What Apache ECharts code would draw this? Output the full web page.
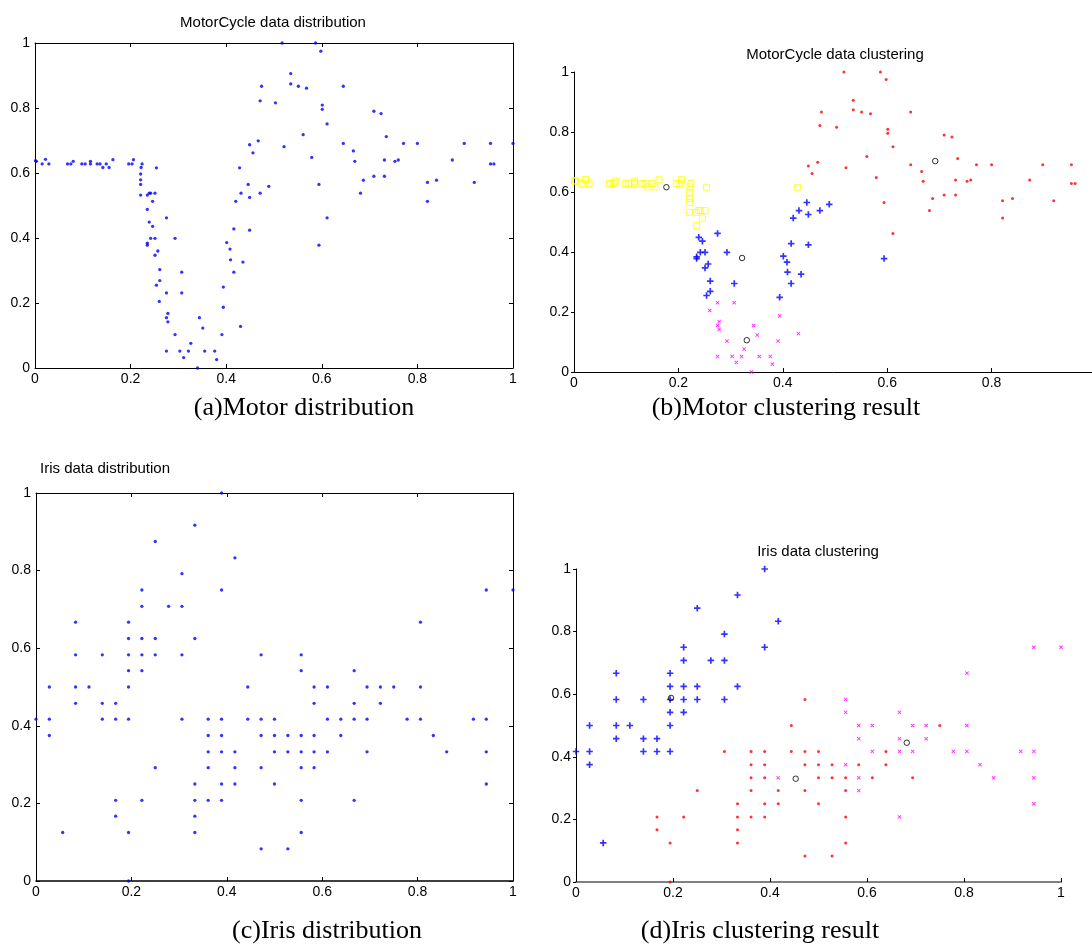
<!DOCTYPE html>
<html>
<head>
<meta charset="utf-8">
<title>MotorCycle / Iris clustering</title>
<script src="https://cdn.jsdelivr.net/npm/echarts@6/dist/echarts.min.js"></script>
<style>
  html, body { margin: 0; padding: 0; background: #fff; }
  #box { width: 1092px; height: 945px; }
</style>
</head>
<body>
<div id="box"></div>
<script>
/* tick labels shared by every axis */
var tickLabels = ['0', '0.2', '0.4', '0.6', '0.8', '1']

/* MotorCycle data (normalized); cluster: 1 yellow, 2 blue, 3 magenta, 4 red */
var motorX = [0.001, 0.003, 0.015, 0.022, 0.029, 0.068, 0.075, 0.080, 0.098, 0.105,
  0.116, 0.116, 0.130, 0.136, 0.142, 0.149, 0.155, 0.163, 0.196, 0.203,
  0.206, 0.222, 0.224, 0.221, 0.221, 0.221, 0.221, 0.254, 0.235, 0.239,
  0.242, 0.251, 0.246, 0.235, 0.239, 0.246, 0.242, 0.251, 0.235, 0.235,
  0.257, 0.251, 0.261, 0.261, 0.254, 0.260, 0.275, 0.293, 0.307, 0.307,
  0.275, 0.275, 0.278, 0.278, 0.293, 0.275, 0.303, 0.311, 0.321, 0.326,
  0.340, 0.344, 0.351, 0.355, 0.376, 0.380, 0.391, 0.394, 0.394, 0.430,
  0.401, 0.408, 0.409, 0.416, 0.435, 0.416, 0.420, 0.428, 0.431, 0.449,
  0.449, 0.446, 0.449, 0.456, 0.467, 0.471, 0.471, 0.474, 0.489, 0.503,
  0.517, 0.521, 0.535, 0.535, 0.551, 0.561, 0.568, 0.579, 0.587, 0.598,
  0.594, 0.594, 0.601, 0.601, 0.611, 0.611, 0.645, 0.645, 0.666, 0.669,
  0.681, 0.687, 0.709, 0.709, 0.724, 0.731, 0.731, 0.735, 0.753, 0.760,
  0.771, 0.800, 0.821, 0.821, 0.840, 0.873, 0.898, 0.919, 0.953, 0.953,
  0.960, 1.000]
var motorY = [0.638, 0.636, 0.628, 0.642, 0.628, 0.628, 0.628, 0.636, 0.628, 0.628,
  0.628, 0.636, 0.628, 0.628, 0.617, 0.628, 0.617, 0.641, 0.628, 0.628,
  0.641, 0.617, 0.628, 0.597, 0.579, 0.565, 0.532, 0.616, 0.532, 0.538,
  0.538, 0.538, 0.513, 0.488, 0.449, 0.436, 0.399, 0.399, 0.384, 0.378,
  0.360, 0.347, 0.303, 0.269, 0.255, 0.205, 0.462, 0.399, 0.295, 0.231,
  0.231, 0.155, 0.168, 0.142, 0.103, 0.052, 0.052, 0.032, 0.052, 0.076,
  0.000, 0.155, 0.123, 0.052, 0.052, 0.026, 0.103, 0.187, 0.249, 0.128,
  0.386, 0.366, 0.333, 0.295, 0.326, 0.428, 0.513, 0.616, 0.538, 0.424,
  0.525, 0.565, 0.687, 0.662, 0.699, 0.538, 0.822, 0.867, 0.559, 0.816,
  1.000, 0.681, 0.906, 0.874, 0.867, 0.718, 0.861, 0.648, 1.000, 0.975,
  0.565, 0.378, 0.809, 0.796, 0.751, 0.462, 0.867, 0.691, 0.668, 0.636,
  0.538, 0.578, 0.790, 0.590, 0.783, 0.640, 0.590, 0.712, 0.636, 0.640,
  0.691, 0.691, 0.571, 0.513, 0.578, 0.640, 0.691, 0.571, 0.691, 0.628,
  0.628, 0.691]
var motorCluster = [1, 1, 1, 1, 1, 1, 1, 1, 1, 1,
  1, 1, 1, 1, 1, 1, 1, 1, 1, 1,
  1, 1, 1, 1, 1, 1, 1, 1, 1, 1,
  1, 1, 1, 1, 2, 2, 2, 2, 2, 2,
  2, 2, 2, 2, 2, 3, 2, 2, 2, 3,
  3, 3, 3, 3, 3, 3, 3, 3, 3, 3,
  3, 3, 3, 3, 3, 3, 3, 3, 2, 3,
  2, 2, 2, 2, 2, 2, 2, 1, 2, 2,
  2, 2, 4, 4, 4, 2, 4, 4, 2, 4,
  4, 4, 4, 4, 4, 4, 4, 4, 4, 4,
  4, 2, 4, 4, 4, 4, 4, 4, 4, 4,
  4, 4, 4, 4, 4, 4, 4, 4, 4, 4,
  4, 4, 4, 4, 4, 4, 4, 4, 4, 4,
  4, 4]
var motorCenterX = [0.177, 0.322, 0.331, 0.692]
var motorCenterY = [0.616, 0.380, 0.106, 0.703]

/* Iris data (sepal length / sepal width, normalized); cluster: 1 blue, 2 red, 3 magenta */
var irisX = [0.000, 0.028, 0.028, 0.028, 0.056, 0.083, 0.083, 0.083, 0.083, 0.111,
  0.139, 0.139, 0.139, 0.167, 0.167, 0.167, 0.167, 0.194, 0.194, 0.194,
  0.194, 0.194, 0.194, 0.194, 0.194, 0.222, 0.222, 0.222, 0.222, 0.222,
  0.222, 0.250, 0.250, 0.250, 0.250, 0.278, 0.306, 0.306, 0.306, 0.306,
  0.333, 0.333, 0.333, 0.333, 0.333, 0.333, 0.361, 0.361, 0.361, 0.361,
  0.361, 0.389, 0.389, 0.389, 0.389, 0.389, 0.389, 0.389, 0.417, 0.417,
  0.417, 0.417, 0.444, 0.444, 0.472, 0.472, 0.472, 0.472, 0.472, 0.500,
  0.500, 0.500, 0.500, 0.528, 0.528, 0.528, 0.556, 0.556, 0.556, 0.556,
  0.556, 0.556, 0.556, 0.583, 0.583, 0.583, 0.583, 0.583, 0.611, 0.611,
  0.611, 0.639, 0.639, 0.667, 0.667, 0.667, 0.667, 0.694, 0.694, 0.694,
  0.722, 0.722, 0.750, 0.778, 0.806, 0.806, 0.806, 0.833, 0.861, 0.917,
  0.944, 0.944, 0.944, 0.944, 1.000]
var irisY = [0.417, 0.500, 0.417, 0.375, 0.125, 0.667, 0.583, 0.500, 0.458, 0.500,
  0.583, 0.458, 0.417, 0.458, 0.417, 0.208, 0.167, 0.667, 0.625, 0.583,
  0.542, 0.500, 0.417, 0.125, 0.000, 0.750, 0.708, 0.625, 0.583, 0.542,
  0.208, 0.875, 0.625, 0.583, 0.292, 0.708, 0.792, 0.708, 0.583, 0.417,
  0.917, 0.625, 0.250, 0.208, 0.167, 0.125, 0.417, 0.375, 0.333, 0.292,
  0.208, 1.000, 0.750, 0.417, 0.375, 0.333, 0.250, 0.208, 0.833, 0.333,
  0.292, 0.250, 0.500, 0.417, 0.583, 0.417, 0.375, 0.292, 0.083, 0.417,
  0.375, 0.333, 0.250, 0.375, 0.333, 0.083, 0.583, 0.542, 0.375, 0.333,
  0.292, 0.208, 0.125, 0.500, 0.458, 0.375, 0.333, 0.292, 0.500, 0.417,
  0.333, 0.417, 0.375, 0.542, 0.458, 0.417, 0.208, 0.500, 0.417, 0.333,
  0.500, 0.458, 0.500, 0.417, 0.667, 0.500, 0.417, 0.375, 0.333, 0.417,
  0.750, 0.417, 0.333, 0.250, 0.750]
var irisCluster = [1, 1, 1, 1, 1, 1, 1, 1, 1, 1,
  1, 1, 1, 1, 1, 2, 2, 1, 1, 1,
  1, 1, 1, 2, 2, 1, 1, 1, 1, 1,
  2, 1, 1, 1, 2, 1, 1, 1, 1, 2,
  1, 1, 2, 2, 2, 2, 2, 2, 2, 2,
  2, 1, 1, 2, 2, 2, 2, 2, 1, 3,
  2, 2, 2, 2, 2, 2, 2, 2, 2, 2,
  2, 2, 2, 2, 2, 2, 3, 3, 3, 2,
  2, 2, 2, 3, 3, 2, 3, 3, 3, 3,
  2, 2, 2, 3, 3, 3, 3, 3, 3, 2,
  3, 3, 2, 3, 3, 3, 3, 3, 3, 3,
  3, 3, 3, 3, 3]
var irisCenterX = [0.196, 0.453, 0.682]
var irisCenterY = [0.588, 0.330, 0.445]

var font = 'Liberation Sans'
var plusPath = 'path://M3.7,0H6.3V3.7H10V6.3H6.3V10H3.7V6.3H0V3.7H3.7Z'
var crossPath = 'path://M0,1.6L1.6,0L5,3.4L8.4,0L10,1.6L6.6,5L10,8.4L8.4,10L5,6.6L1.6,10L0,8.4L3.4,5Z'

/* [[x, y], ...] for one cluster (or all when cluster is null) */
function points (xs, ys, cl, c) {
  var out = []
  xs.forEach(function (x, i) {
    if (c == null || cl[i] === c) out.push([x, ys[i]])
  })
  return out
}

function valueAxis (gridIndex, position, o) {
  o = o || {}
  return {
    type: 'value',
    gridIndex: gridIndex,
    position: position,
    min: 0,
    max: 1,
    interval: 0.2,
    splitLine: { show: false },
    axisLine: { show: true, onZero: false, lineStyle: { color: o.lineColor || '#000', width: o.lineWidth || 1 } },
    axisTick: { show: true, inside: !o.tickOut, length: o.tickLen || 4, lineStyle: { color: '#000', width: 1 } },
    axisLabel: {
      show: !o.noLabel,
      margin: position === 'bottom' ? 4 : 5,
      color: '#000',
      fontFamily: font,
      fontSize: 14,
      showMinLabel: true,
      showMaxLabel: !o.hideMax,
      formatter: function (v) { return tickLabels[Math.round(v / 0.2)] }
    }
  }
}

function dots (xi, yi, data, color, size) {
  return {
    type: 'scatter', xAxisIndex: xi, yAxisIndex: yi, data: data, clip: false,
    symbol: 'circle', symbolSize: size || 3.3,
    itemStyle: { color: color }, silent: true
  }
}

function marks (xi, yi, data, symbol, size, style, rotate) {
  return {
    type: 'scatter', xAxisIndex: xi, yAxisIndex: yi, data: data, clip: false,
    symbol: symbol, symbolSize: size, symbolRotate: rotate || 0,
    itemStyle: style, silent: true
  }
}

function label (text, x, y, serif) {
  return {
    text: text, left: x, top: y, padding: 0,
    textAlign: 'center', textVerticalAlign: 'middle',
    textStyle: serif
      ? { fontFamily: 'Liberation Serif', fontSize: 26, fontWeight: 'normal', color: '#000' }
      : { fontFamily: font, fontSize: 15, fontWeight: 'normal', color: '#000' }
  }
}

var box = document.getElementById('box')
var myCharts = echarts.init(box, null, { renderer: 'canvas' })

var hollow = function (c) { return { color: 'rgba(0,0,0,0)', borderColor: c, borderWidth: 1 } }

var options = {
  backgroundColor: '#fff',
  animation: false,
  title: [
    label('MotorCycle data distribution', 273, 23),
    label('MotorCycle data clustering', 835, 55),
    label('Iris data distribution', 105, 469),
    label('Iris data clustering', 818, 552),
    label('(a)Motor distribution', 304, 408, true),
    label('(b)Motor clustering result', 786, 408, true),
    label('(c)Iris distribution', 327, 931, true),
    label('(d)Iris clustering result', 760, 931, true)
  ],
  grid: [
    { left: 35, top: 43, width: 478, height: 325, outerBoundsMode: 'none' },
    { left: 574, top: 72, width: 522, height: 300, outerBoundsMode: 'none' },
    { left: 36, top: 493, width: 477, height: 388, outerBoundsMode: 'none' },
    { left: 576, top: 569, width: 485, height: 313, outerBoundsMode: 'none' }
  ],
  xAxis: [
    valueAxis(0, 'bottom'),
    valueAxis(0, 'top', { noLabel: true }),
    valueAxis(1, 'bottom', { hideMax: true }),
    valueAxis(2, 'bottom', { lineWidth: 1.5 }),
    valueAxis(2, 'top', { noLabel: true }),
    valueAxis(3, 'bottom', { lineColor: '#808080', lineWidth: 2 })
  ],
  yAxis: [
    valueAxis(0, 'left'),
    valueAxis(0, 'right', { noLabel: true }),
    valueAxis(1, 'left', { tickOut: true, tickLen: 3 }),
    valueAxis(2, 'left'),
    valueAxis(2, 'right', { noLabel: true }),
    valueAxis(3, 'left', { tickOut: true, tickLen: 3 })
  ],
  series: [
    /* (a) */
    dots(0, 0, points(motorX, motorY, motorCluster, null), '#0000ff'),
    /* (b) */
    marks(2, 2, points(motorX, motorY, motorCluster, 1), 'rect', 6, hollow('#ffff00')),
    marks(2, 2, points(motorX, motorY, motorCluster, 2), plusPath, 6.5, { color: '#0000ff' }),
    marks(2, 2, points(motorX, motorY, motorCluster, 3), crossPath, 4, { color: '#ff00ff' }),
    dots(2, 2, points(motorX, motorY, motorCluster, 4), '#ff0000', 3),
    marks(2, 2, points(motorCenterX, motorCenterY, null, null), 'circle', 5.5, hollow('#000')),
    /* (c) */
    dots(3, 3, points(irisX, irisY, irisCluster, null), '#0000ff'),
    /* (d) */
    marks(5, 5, points(irisX, irisY, irisCluster, 1), plusPath, 6.5, { color: '#0000ff' }),
    dots(5, 5, points(irisX, irisY, irisCluster, 2), '#ff0000', 3),
    marks(5, 5, points(irisX, irisY, irisCluster, 3), crossPath, 4, { color: '#ff00ff' }),
    marks(5, 5, points(irisCenterX, irisCenterY, null, null), 'circle', 5.5, hollow('#000'))
  ]
}
myCharts.setOption(options)
</script>
</body>
</html>
